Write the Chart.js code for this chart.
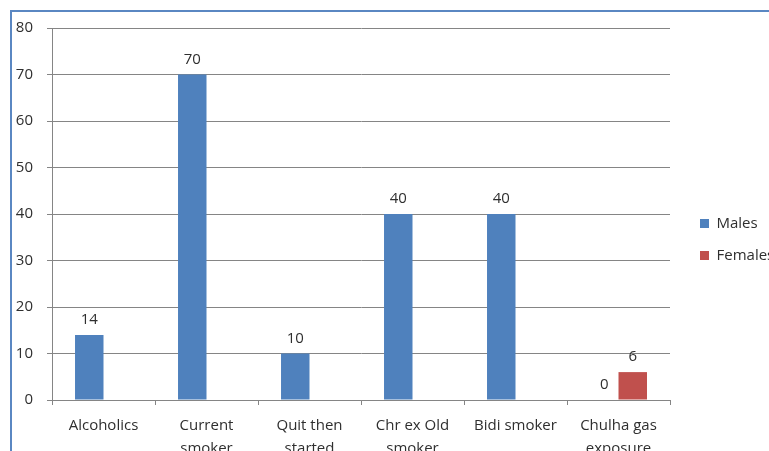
<!DOCTYPE html>
<html>
<head>
<meta charset="utf-8">
<script src="https://cdn.jsdelivr.net/npm/chart.js@4"></script>
<style>
  html, body { margin: 0; padding: 0; background: #fff; overflow: hidden; }
  #frame { position: absolute; left: 10px; top: 10px; width: 900px; height: 600px;
           border-left: 2px solid #5a87c2; border-top: 2px solid #5a87c2; }
  #wrap { position: absolute; left: 0; top: 0; }
</style>
</head>
<body>
<div id="frame"></div>
<div id="wrap"><canvas id="c" width="820" height="451"></canvas></div>
<script>
const categories = [
  'Alcoholics',
  ['Current', 'smoker'],
  ['Quit then', 'started'],
  ['Chr ex Old', 'smoker'],
  'Bidi smoker',
  ['Chulha gas', 'exposure']
];
const malesValues = [14, 70, 10, 40, 40, 0];
const femalesValues = [null, null, null, null, null, 6];
const yTicks = [0, 10, 20, 30, 40, 50, 60, 70, 80];

const FONT = "'Open Sans', sans-serif";
const FS = 15;
const TEXT = '#2f2f2f';
const GRID = '#858585';

const W = 820;
const plotRight = 670;
const legendPad = 17;
const gapToLegend = 13;
const boxW = 9;
const m = document.createElement('canvas').getContext('2d');
m.font = FS + 'px ' + FONT;
const tw = Math.max(m.measureText('Males').width, m.measureText('Females').width);
const legendWidth = legendPad + (boxW + FS / 2 + tw) + 10;
const padRight = W - plotRight - gapToLegend - legendWidth;

const valueLabels = {
  id: 'valueLabels',
  afterDatasetsDraw(chart) {
    const ctx = chart.ctx;
    ctx.save();
    ctx.font = FS + 'px ' + FONT;
    ctx.fillStyle = TEXT;
    ctx.textAlign = 'center';
    ctx.textBaseline = 'alphabetic';
    chart.data.datasets.forEach((ds, di) => {
      const meta = chart.getDatasetMeta(di);
      meta.data.forEach((el, i) => {
        const v = ds.data[i];
        if (v === null || v === undefined) return;
        ctx.fillText(String(v), el.x, el.y - 11);
      });
    });
    ctx.restore();
  }
};

new Chart(document.getElementById('c'), {
  type: 'bar',
  data: {
    labels: categories,
    datasets: [
      { label: 'Males', data: malesValues, backgroundColor: '#4f81bd', borderWidth: 0,
        categoryPercentage: 0.553, barPercentage: 1 },
      { label: 'Females', data: femalesValues, backgroundColor: '#c0504d', borderWidth: 0,
        categoryPercentage: 0.553, barPercentage: 1 }
    ]
  },
  options: {
    responsive: false,
    animation: false,
    layout: { padding: { left: 12, top: 28, right: padRight, bottom: 0 } },
    plugins: {
      legend: {
        position: 'right',
        align: 'center',
        labels: {
          boxWidth: boxW, boxHeight: boxW, padding: legendPad,
          color: TEXT, font: { family: FONT, size: FS }
        }
      },
      tooltip: { enabled: false },
      title: { display: false }
    },
    scales: {
      x: {
        offset: true,
        grid: { display: true, drawOnChartArea: false, drawTicks: true, tickLength: 5, color: GRID, offset: true },
        border: { display: true, color: GRID },
        ticks: { color: TEXT, font: { family: FONT, size: FS, lineHeight: 1.53 }, maxRotation: 0, autoSkip: false, padding: 9 },
        afterFit(s) { s.height = 451 - 400; }
      },
      y: {
        min: 0, max: 80,
        afterBuildTicks(s) { s.ticks = yTicks.map(v => ({ value: v })); },
        grid: { color: GRID, tickLength: 5, drawTicks: true },
        border: { display: true, color: GRID },
        ticks: { color: TEXT, font: { family: FONT, size: FS }, padding: 14 },
        afterFit(s) { s.width = 40; }
      },
      y2: {
        type: 'linear',
        position: 'right',
        display: true,
        grid: { display: false, drawTicks: false },
        border: { display: false },
        ticks: { display: false },
        afterFit(s) { s.width = gapToLegend; }
      }
    }
  },
  plugins: [valueLabels]
});
</script>
</body>
</html>
